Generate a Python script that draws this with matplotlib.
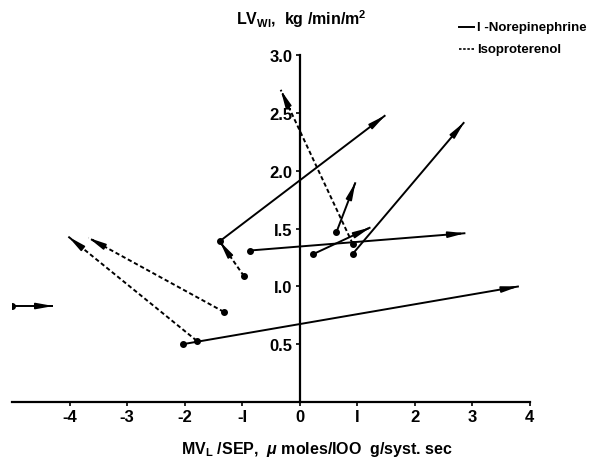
import matplotlib
matplotlib.use("Agg")
import matplotlib.pyplot as plt

plt.rcParams['font.family'] = ['Liberation Sans', 'DejaVu Sans']
plt.rcParams['mathtext.fontset'] = 'custom'
plt.rcParams['mathtext.rm'] = 'Liberation Sans:bold'
plt.rcParams['mathtext.it'] = 'Liberation Sans:italic:bold'

# l-Norepinephrine arrows: start (control) -> end
ne_x0 = [-5.0, -2.03, -0.87, -1.39, 0.64, 0.24, 0.92]
ne_y0 = [0.83, 0.50, 1.31, 1.39, 1.47, 1.28, 1.28]
ne_x1 = [-4.28, 3.81, 2.88, 1.49, 0.97, 1.23, 2.86]
ne_y1 = [0.83, 1.00, 1.46, 2.48, 1.90, 1.51, 2.42]

# Isoproterenol arrows
iso_x0 = [-1.79, -1.32, -0.97, 0.92]
iso_y0 = [0.53, 0.78, 1.09, 1.37]
iso_x1 = [-4.02, -3.67, -1.39, -0.33]
iso_y1 = [1.43, 1.42, 1.39, 2.70]

xticks = [-4, -3, -2, -1, 0, 1, 2, 3, 4]
xlabels = ['-4', '-3', '-2', '-I', '0', 'I', '2', '3', '4']
yticks = [0.5, 1.0, 1.5, 2.0, 2.5, 3.0]
ylabels = ['0.5', 'I.0', 'I.5', '2.0', '2.5', '3.0']

fig = plt.figure(figsize=(5.9, 4.64), dpi=100)
ax = fig.add_axes([0.0203, 0.1315, 0.8777, 0.7475])


def arrow(x0, y0, x1, y1, ls):
    ax.plot([x0, x1], [y0, y1], color='black', lw=1.4, linestyle=ls,
            solid_capstyle='butt')
    ax.plot([x0], [y0], 'o', color='black', ms=4)
    e = 0.04
    ax.annotate('', xy=(x1, y1), xytext=(x1 - (x1 - x0) * e, y1 - (y1 - y0) * e),
                arrowprops=dict(arrowstyle='-|>,head_length=1.0,head_width=0.18',
                                color='black', lw=1.2, shrinkA=0, shrinkB=0))


for i in range(len(ne_x0)):
    arrow(ne_x0[i], ne_y0[i], ne_x1[i], ne_y1[i], '-')
for i in range(len(iso_x0)):
    arrow(iso_x0[i], iso_y0[i], iso_x1[i], iso_y1[i], (0, (2.2, 1.4)))

ax.set_xlim(-5, 4)
ax.set_ylim(0, 3.0)
ax.spines['left'].set_position(('data', 0))
ax.spines['bottom'].set_position(('data', 0))
ax.spines['right'].set_visible(False)
ax.spines['top'].set_visible(False)
ax.spines['left'].set_linewidth(1.6)
ax.spines['bottom'].set_linewidth(1.6)
ax.patch.set_visible(False)

ax.set_xticks(xticks)
ax.set_xticklabels(xlabels, fontsize=12, fontweight='bold')
ax.set_yticks(yticks)
ax.set_yticklabels(ylabels, fontsize=12, fontweight='bold')
ax.tick_params(axis='both', direction='out', length=3, width=1.2, pad=2)

fig.text(0.538, 0.032, r'MV$_\mathregular{L}$ /SEP,  $\mu$ moles/IOO  g/syst. sec',
         ha='center', va='center', fontsize=11.5, fontweight='bold')
fig.text(0.51, 0.958, r'LV$_\mathregular{WI}$,  kg /min/m$^\mathregular{2}$',
         ha='center', va='center', fontsize=11.5, fontweight='bold')

# legend
fig.lines.append(plt.Line2D([0.778, 0.803], [0.94, 0.94], transform=fig.transFigure,
                            color='black', lw=1.4))
fig.text(0.808, 0.94, 'l -Norepinephrine', ha='left', va='center', fontsize=9.5,
         fontweight='bold')
fig.lines.append(plt.Line2D([0.778, 0.803], [0.893, 0.893], transform=fig.transFigure,
                            color='black', lw=1.2, linestyle=(0, (1.5, 1))))
fig.text(0.808, 0.893, 'Isoproterenol', ha='left', va='center', fontsize=9.5,
         fontweight='bold')

fig.savefig('out.png', dpi=100)
